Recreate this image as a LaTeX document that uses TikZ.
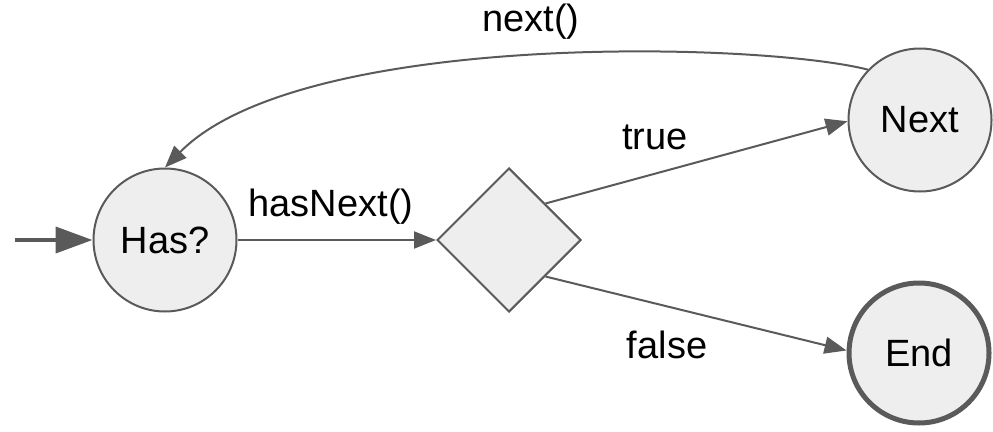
\documentclass[tikz,border=0pt]{standalone}
\usepackage{fontspec}
\setmainfont{Liberation Sans}
\usetikzlibrary{arrows.meta,shapes.geometric}
\definecolor{stroke}{HTML}{5A5A5A}
\definecolor{statefill}{HTML}{EEEEEE}
\tikzset{
  state/.style={circle,draw=stroke,fill=statefill,line width=2pt,minimum size=143pt,inner sep=0pt,font=\fontsize{38}{40}\selectfont},
  finalstate/.style={state,line width=5pt,minimum size=140pt},
  choice/.style={diamond,draw=stroke,fill=statefill,line width=2pt,minimum width=144pt,minimum height=144pt,inner sep=0pt},
  flow/.style={draw=stroke,line width=2pt,-{Triangle[length=22pt,width=17pt]}},
  lbl/.style={font=\fontsize{38}{40}\selectfont,inner sep=0pt}
}
\begin{document}
\begin{tikzpicture}[x=1pt,y=-1pt]
  \useasboundingbox (0,0) rectangle (993,431);
  \node[state] (has) at (165,240) {Has?};
  \node[choice] (dec) at (509,240) {};
  \node[state] (nxt) at (920,120) {Next};
  \node[finalstate] (end) at (919,353) {End};
  \coordinate (start) at (15,240);
  % entry arrow
  \draw[draw=stroke,line width=4pt,-{Triangle[length=37pt,width=26pt]}] (start) -- (has.west);
  % transitions
  \draw[flow] (has.east) -- (dec.west);
  \draw[flow] (dec.north east) -- (nxt.181);
  \draw[flow] (dec.south east) -- (end.178);
  \draw[flow] (nxt.136) .. controls (760,42) and (300,30) .. (has.north);
  % edge labels
  \node[lbl] (lnext) at (531,22) {next()};
  \node[lbl] (ltrue) at (655,137) {true};
  \node[lbl] (lhas) at (331,207) {hasNext()};
  \node[lbl] (lfalse) at (667,345) {false};
\end{tikzpicture}
\end{document}
